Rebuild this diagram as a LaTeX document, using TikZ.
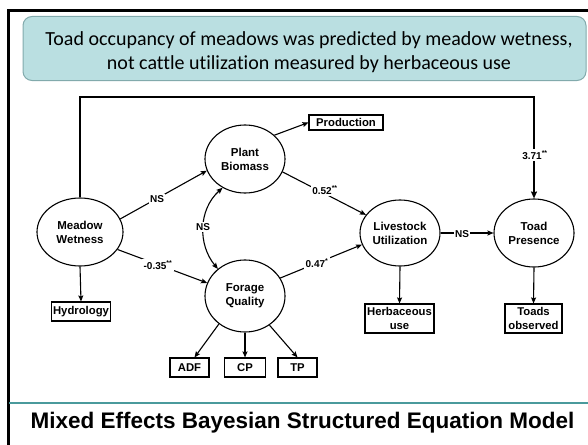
\documentclass[tikz,border=0pt]{standalone}
\usepackage{fontspec}
\setmainfont{Liberation Sans}
\newfontfamily\calibri[Ligatures={NoCommon}]{Carlito}
\usetikzlibrary{shapes.geometric,arrows.meta}
\definecolor{calloutfill}{HTML}{BADFE1}
\definecolor{calloutdraw}{HTML}{82AAAC}
\definecolor{tealline}{HTML}{4A9A9C}
\tikzset{
  latent/.style={ellipse,draw=black,line width=1.1pt,minimum width=80pt,minimum height=68pt,inner sep=0pt,align=center,font=\bfseries\fontsize{11.5}{14}\selectfont},
  obs/.style={rectangle,draw=black,line width=1.1pt,inner sep=0pt,align=center,font=\bfseries\fontsize{11.3}{14}\selectfont},
  arr/.style={line width=1.1pt,-{Stealth[length=6pt,width=5pt,inset=1pt]}},
  darr/.style={line width=1.1pt,{Stealth[length=6pt,width=5pt,inset=1pt]}-{Stealth[length=6pt,width=5pt,inset=1pt]}},
  lbl/.style={fill=white,inner sep=1.5pt,font=\bfseries\fontsize{10}{11}\selectfont}
}
\begin{document}
\begin{tikzpicture}[x=1pt,y=-1pt]
\useasboundingbox (0,0) rectangle (588,444);
% outer frame
\draw[line width=2.5pt] (8.7,460) -- (8.7,10.7) -- (600,10.7);
% callout
\node (callout) [draw=calloutdraw,fill=calloutfill,line width=1pt,rounded corners=9pt,minimum width=563pt,minimum height=64pt,inner sep=0pt] at (304.5,48.5) {};
\node (callouttext) [align=center,font=\calibri\fontsize{20}{24}\selectfont] at (309,52.5) {Toad occupancy of meadows was predicted by meadow wetness,\\not cattle utilization measured by herbaceous use};
% latent variables
\node (mw) [latent,minimum width=86pt] at (80,232) {Meadow\\Wetness};
\node (pb) [latent] at (245,159) {Plant\\Biomass};
\node (fq) [latent,minimum height=72pt] at (245,296) {Forage\\Quality};
\node (lu) [latent,minimum height=66pt] at (400,233) {Livestock\\Utilization};
\node (tp) [latent] at (534,233) {Toad\\Presence};
% observed
\node (prod) [obs,minimum width=74pt,minimum height=15pt] at (346,122.5) {Production};
\node (hyd) [obs,minimum width=59pt,minimum height=19pt] at (81,311.5) {Hydrology};
\node (adf) [obs,minimum width=39pt,minimum height=19pt] at (189.5,367.5) {ADF};
\node (cp) [obs,minimum width=41pt,minimum height=19pt] at (245,367.5) {CP};
\node (tpo) [obs,minimum width=39pt,minimum height=19pt] at (297.5,367.5) {TP};
\node (herb) [obs,minimum width=69pt,minimum height=29pt] at (399.5,318.5) {Herbaceous\\use};
\node (toads) [obs,minimum width=57pt,minimum height=29pt] at (533.5,318.5) {Toads\\observed};
% top connector
\coordinate (tl) at (mw.north |- 0,97);
\coordinate (tr) at (tp.north |- 0,97);
\draw[line width=2pt,-{Stealth[length=7pt,width=6pt,inset=1pt]}] (mw.north) -- (tl) -- (tr) -- (tp.north);
% arrows
\draw[arr] (mw.18) -- (pb.197);
\draw[arr] (mw.-25) -- (fq.161);
\draw[darr] (pb.232) .. controls (198,210) and (198,245) .. (fq.135);
\draw[arr] (pb.39) -- (prod.west);
\draw[arr] (pb.-19) -- (lu.152);
\draw[arr] (fq.27) -- (lu.197);
\draw[arr] (lu.east) -- (tp.west);
\draw[arr] (mw.south) -- (hyd.north);
\draw[arr] (fq.-133) -- ([xshift=5pt]adf.north);
\draw[arr] (fq.south) -- (cp.north);
\draw[arr] (fq.-50) -- (tpo.north);
\draw[arr] (lu.south) -- (herb.north);
\draw[arr] (tp.south) -- (toads.north);
% labels
\node (l1) [lbl] at (157,199) {NS};
\node (l2) [lbl] at (158,265) {-0.35\textsuperscript{**}};
\node (l3) [lbl] at (203,227) {NS};
\node (l4) [lbl] at (325,190) {0.52\textsuperscript{**}};
\node (l5) [lbl] at (317,263) {0.47\textsuperscript{*}};
\node (l6) [lbl] at (462,234) {NS};
\node (l7) [lbl] at (535,155) {3.71\textsuperscript{**}};
% bottom
\draw[tealline,line width=2pt] (9,403) -- (600,403);
\node (title) [font=\bfseries\fontsize{22.5}{26}\selectfont] at (302.5,423) {Mixed Effects Bayesian Structured Equation Model};
\end{tikzpicture}
\end{document}
